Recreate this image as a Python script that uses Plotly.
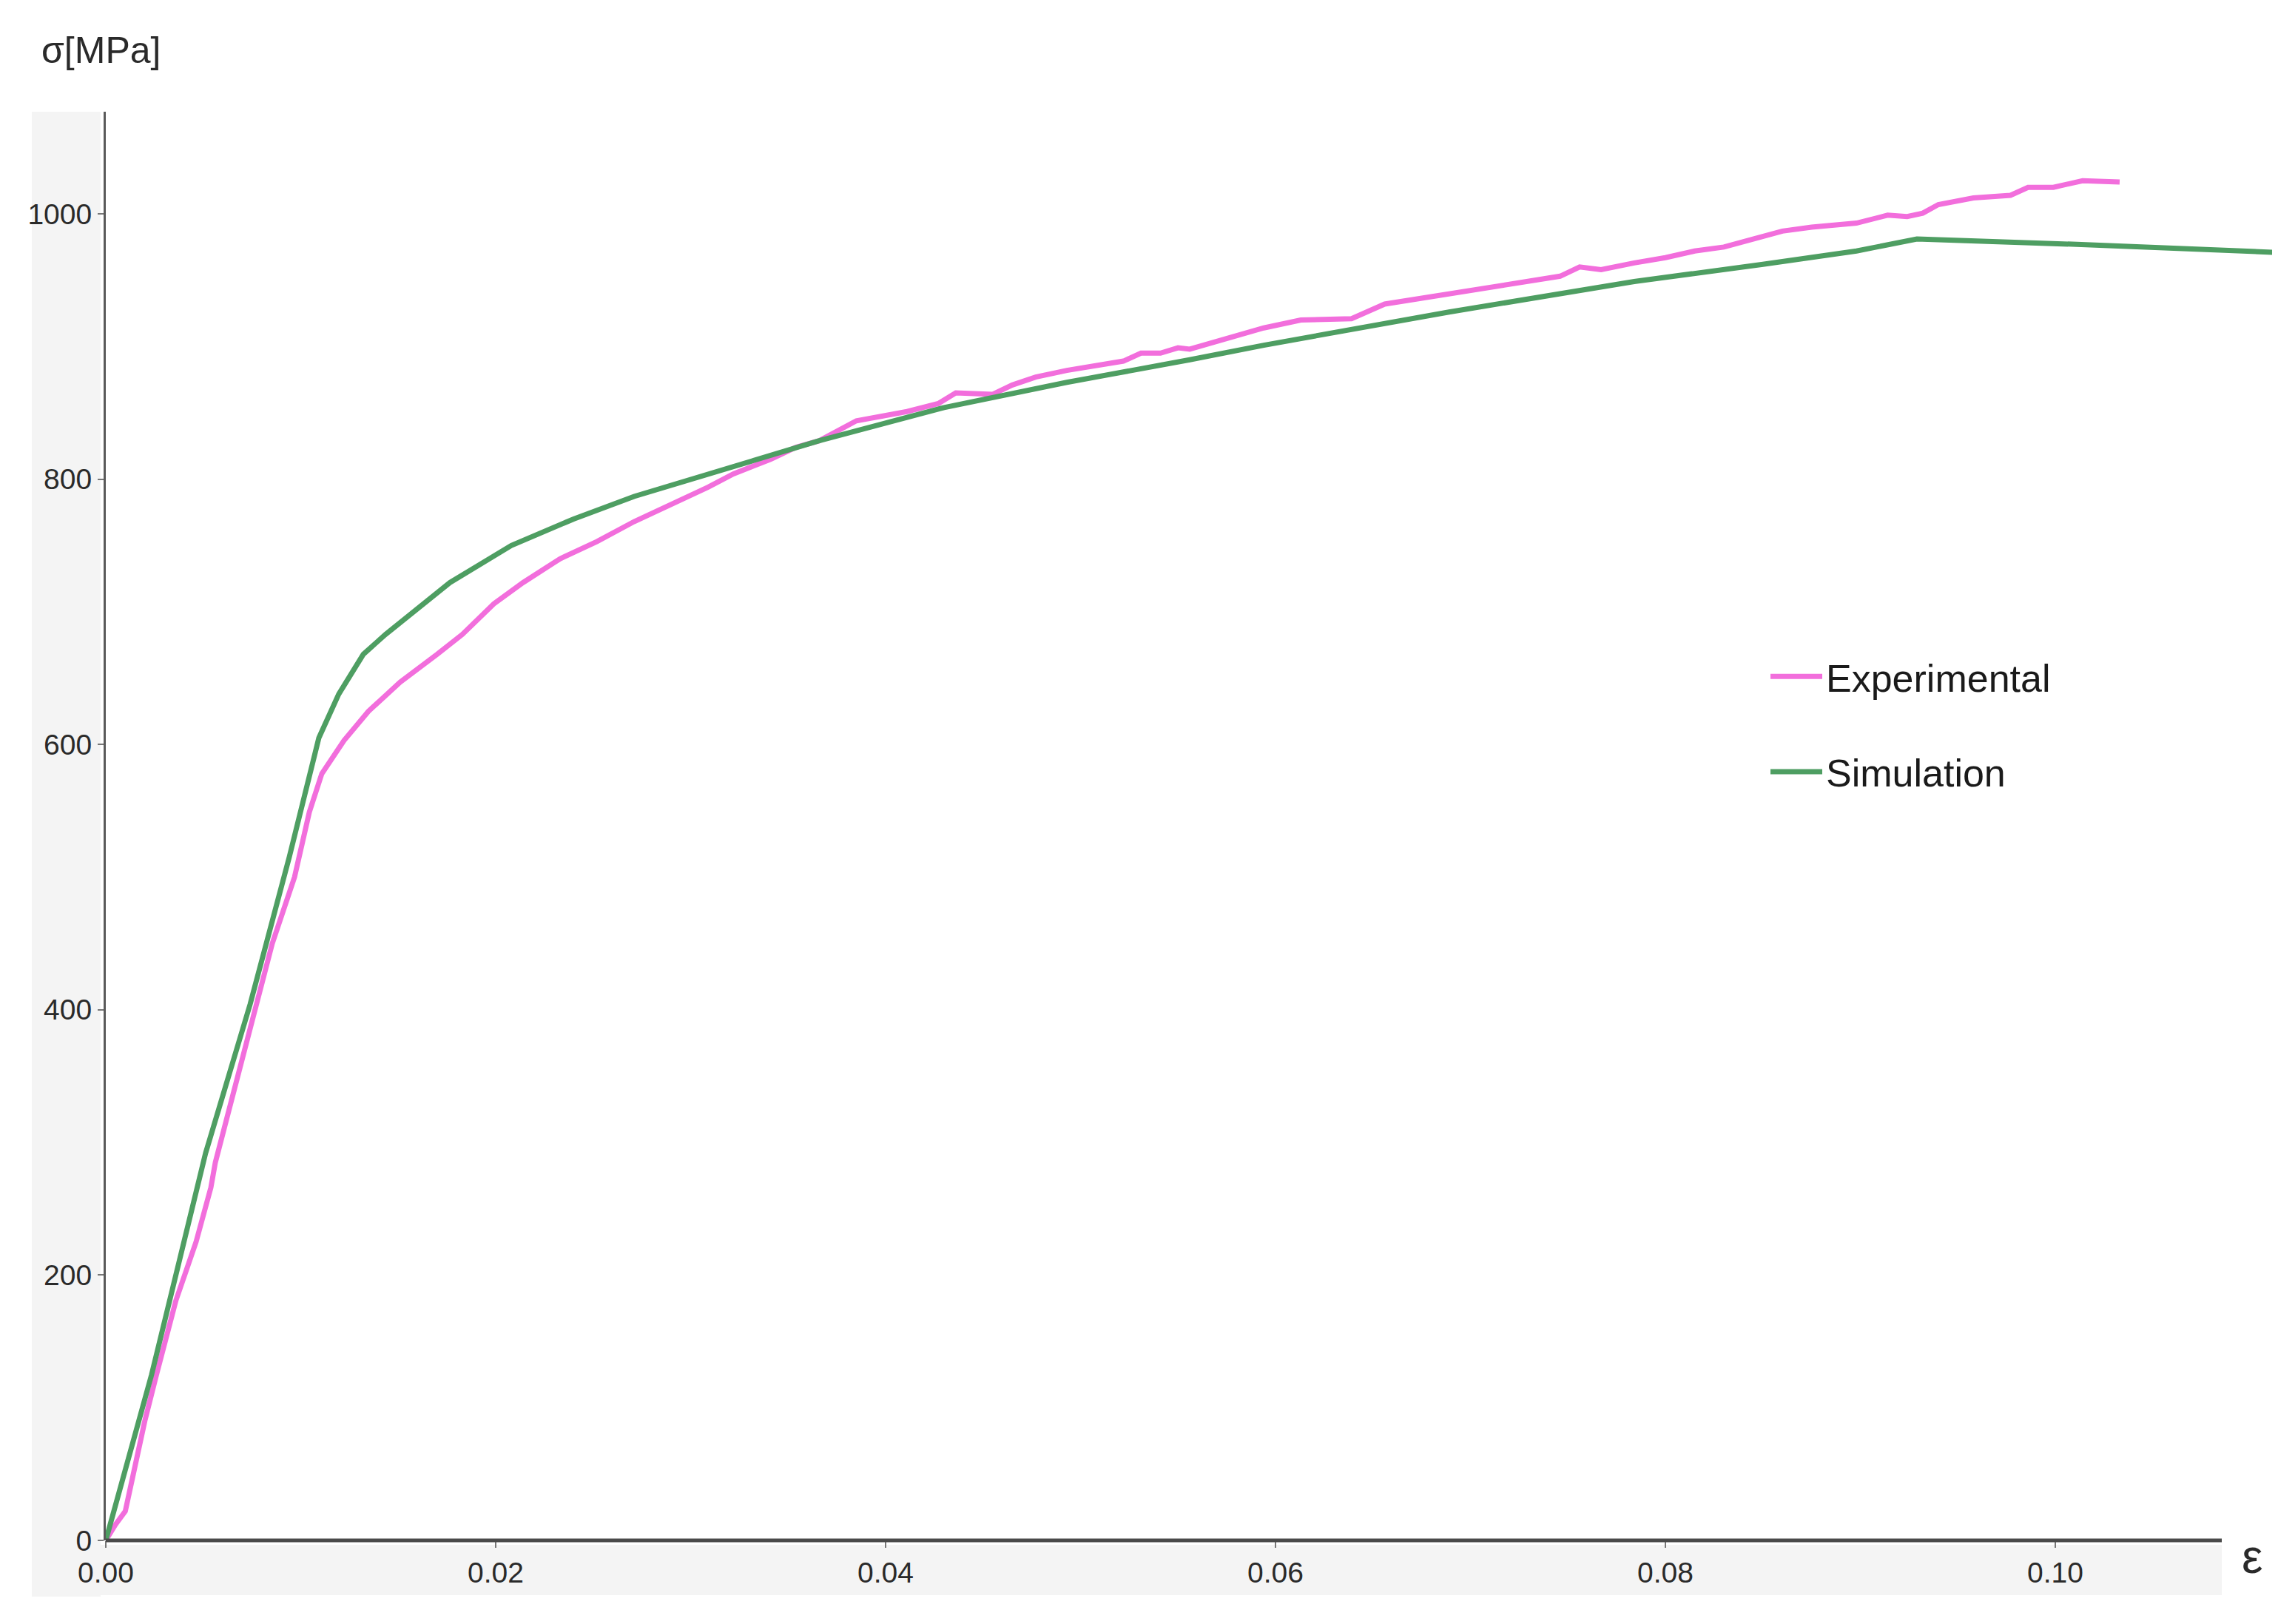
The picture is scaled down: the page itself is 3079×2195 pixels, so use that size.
import plotly.graph_objects as go

# ---------------- data ----------------
exp_strain = [0, 0.0005, 0.0010, 0.0015, 0.0020, 0.0026, 0.0036, 0.00463, 0.00539, 0.00562,
              0.00664, 0.00751, 0.00854, 0.00968, 0.01017, 0.01044, 0.01108, 0.01222, 0.01347,
              0.01412, 0.0151, 0.0170, 0.01829, 0.0199, 0.0214, 0.0233, 0.0252, 0.0271, 0.0290,
              0.0309, 0.0322, 0.0341, 0.0354, 0.0366, 0.0385, 0.0411, 0.0427, 0.0436, 0.0455,
              0.0465, 0.0477, 0.0493, 0.0522, 0.0531, 0.0541, 0.0550, 0.0556, 0.0575, 0.0594,
              0.0613, 0.0629, 0.0639, 0.0656, 0.0689, 0.0720, 0.0746, 0.0756, 0.0767, 0.0784,
              0.0800, 0.0815, 0.0830, 0.0845, 0.0860, 0.0875, 0.0898, 0.0914, 0.0924, 0.0932,
              0.0940, 0.0958, 0.0977, 0.0986, 0.0999, 0.1014, 0.1033]
exp_stress = [0, 12, 22, 55, 90, 125, 181, 225, 266, 285,
              342, 394, 450, 500, 530, 549, 578, 603, 625,
              634, 647, 668, 683, 706, 722, 740, 753, 768, 781,
              794, 804, 815, 824, 829, 844, 851, 857, 865, 864,
              871, 877, 882, 889, 895, 895, 899, 898, 906, 914,
              920, 921, 921, 932, 940, 947, 953, 960, 958, 963,
              967, 972, 975, 981, 987, 990, 993, 999, 998, 1000.5,
              1007, 1012, 1014, 1020, 1020, 1025, 1024]

sim_strain = [0, 0.00235, 0.00512, 0.0074, 0.00941, 0.01032, 0.01093, 0.01195, 0.01321, 0.01435,
              0.0160, 0.01765, 0.0208, 0.0240, 0.0271, 0.0303, 0.0335, 0.0366, 0.0430, 0.0493,
              0.0556, 0.0594, 0.0689, 0.0784, 0.0850, 0.0898, 0.0929, 0.1011, 0.1112]
sim_stress = [0, 125, 292, 404, 515, 571, 605, 638, 668, 683,
              703, 722, 750, 770, 787, 801, 815, 829, 854, 873,
              890, 901, 926, 949, 962, 972, 981, 977, 971]

x_ticks = [0.00, 0.02, 0.04, 0.06, 0.08, 0.10]
y_ticks = [0, 200, 400, 600, 800, 1000]

# ---------------- style ----------------
W, H = 3079, 2195
L, R, T, B = 135, 14, 143, 121
PW, PH = W - L - R, H - T - B
FONT = "Liberation Sans, Arial, sans-serif"
PINK = "#F26EDC"
GREEN = "#4E9E62"


def px_x(X):
    return (X - L) / PW


def px_y(Y):
    return (H - B - Y) / PH


fig = go.Figure()
fig.add_trace(go.Scatter(x=exp_strain, y=exp_stress, mode="lines", name="Experimental",
                         legendgroup="a", line=dict(color=PINK, width=7)))
fig.add_trace(go.Scatter(x=sim_strain, y=sim_stress, mode="lines", name="Simulation",
                         legendgroup="b", line=dict(color=GREEN, width=7)))

shapes = [
    # grey band behind y tick labels
    dict(type="rect", xref="paper", yref="paper", x0=px_x(35), x1=px_x(128),
         y0=px_y(2150), y1=px_y(143), fillcolor="#F4F4F4", line=dict(width=0), layer="below"),
    # grey band behind x tick labels
    dict(type="rect", xref="paper", yref="paper", x0=px_x(35), x1=px_x(2995),
         y0=px_y(2148), y1=px_y(2080), fillcolor="#F4F4F4", line=dict(width=0), layer="below"),
    # x axis line (ends before plot right edge)
    dict(type="line", xref="paper", yref="paper", x0=0, x1=px_x(2995), y0=0, y1=0,
         line=dict(color="#4A4A4A", width=5), layer="above"),
]

fig.update_layout(
    width=W, height=H,
    margin=dict(l=L, r=R, t=T, b=B),
    paper_bgcolor="white", plot_bgcolor="white",
    font=dict(family=FONT, color="#2A2A2A"),
    shapes=shapes,
    showlegend=True,
    legend=dict(x=px_x(2380), y=px_y(866), xanchor="left", yanchor="top",
                font=dict(size=52, family=FONT, color="#1A1A1A"),
                bgcolor="rgba(0,0,0,0)", tracegroupgap=58, itemwidth=70),
    annotations=[
        dict(text="σ[MPa]", xref="paper", yref="paper", x=px_x(128), y=px_y(60),
             xanchor="center", yanchor="middle", showarrow=False,
             font=dict(size=50, family=FONT, color="#2A2A2A")),
        dict(text="ε", xref="paper", yref="paper", x=px_x(3036), y=px_y(2096),
             xanchor="center", yanchor="middle", showarrow=False,
             font=dict(size=64, family=FONT, color="#2A2A2A")),
    ],
)

fig.update_xaxes(range=[0, (W - R - L) / 26350], tickvals=x_ticks, tickformat=".2f",
                 showgrid=False, zeroline=False, showline=False,
                 ticks="outside", ticklen=9, tickwidth=2, tickcolor="#777",
                 tickfont=dict(size=39, family=FONT, color="#2A2A2A"))
fig.update_yaxes(range=[0, 1077], tickvals=y_ticks,
                 showgrid=False, zeroline=False, showline=True, linecolor="#5A5A5A", linewidth=3,
                 ticks="outside", ticklen=8, tickwidth=2, tickcolor="#777",
                 tickfont=dict(size=39, family=FONT, color="#2A2A2A"))

fig.write_html("out.html")
